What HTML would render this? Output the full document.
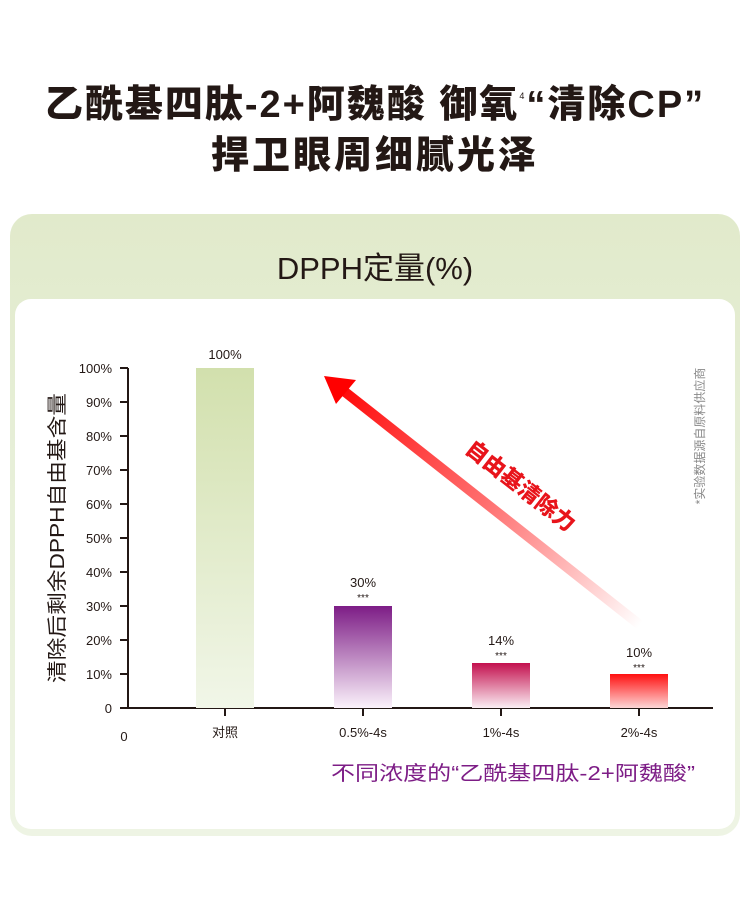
<!DOCTYPE html>
<html><head><meta charset="utf-8">
<style>
html,body{margin:0;padding:0;background:#fff;}
body{width:750px;height:904px;position:relative;overflow:hidden;font-family:"Liberation Sans","Noto Sans CJK SC",sans-serif;color:#231815;}
.t{position:absolute;left:0;width:750px;text-align:center;font-weight:900;font-size:38px;letter-spacing:2px;}
.outer{position:absolute;left:10px;top:214px;width:730px;height:622px;border-radius:22px;background:linear-gradient(#e1eacb,#e7efd8 40%,#eef4e4);}
.inner{position:absolute;left:15px;top:299px;width:720px;height:530px;border-radius:16px;background:#fff;}
.sub{position:absolute;left:0;top:243px;width:750px;text-align:center;font-size:31px;color:#231815;}
svg{position:absolute;left:0;top:0;}
</style></head><body>
<div class="t" style="top:73px">乙酰基四肽-2+阿魏酸 御氧<span style="font-size:9px;vertical-align:18px;font-weight:400">4</span>“清除CP”</div>
<div class="t" style="top:124px;letter-spacing:3px">捍卫眼周细腻光泽</div>
<div class="outer"></div>
<div class="inner"></div>
<div class="sub">DPPH定量(%)</div>
<svg width="750" height="904" viewBox="0 0 750 904">
<defs>
<linearGradient id="g0" x1="0" y1="0" x2="0" y2="1"><stop offset="0" stop-color="#d2e0ad"/><stop offset="1" stop-color="#f1f6e8"/></linearGradient>
<linearGradient id="g1" x1="0" y1="0" x2="0" y2="1"><stop offset="0" stop-color="#7d1d86"/><stop offset="1" stop-color="#fbf2fb"/></linearGradient>
<linearGradient id="g2" x1="0" y1="0" x2="0" y2="1"><stop offset="0" stop-color="#c3104e"/><stop offset="1" stop-color="#fbeef4"/></linearGradient>
<linearGradient id="g3" x1="0" y1="0" x2="0" y2="1"><stop offset="0" stop-color="#ff1010"/><stop offset="1" stop-color="#fdd6d6"/></linearGradient>
<linearGradient id="ga" x1="640" y1="625" x2="330" y2="380" gradientUnits="userSpaceOnUse"><stop offset="0" stop-color="#ff2020" stop-opacity="0"/><stop offset="0.5" stop-color="#ff3030" stop-opacity="0.7"/><stop offset="1" stop-color="#f00"/></linearGradient>
</defs>
<g font-family="Liberation Sans, Noto Sans CJK SC, sans-serif" font-size="13" fill="#231815">
<line x1="128" y1="368" x2="128" y2="709" stroke="#231815" stroke-width="2"/>
<line x1="120" y1="708" x2="713" y2="708" stroke="#231815" stroke-width="2"/>
<g stroke="#231815" stroke-width="2">
<line x1="120" y1="368" x2="128" y2="368"/><line x1="120" y1="402" x2="128" y2="402"/><line x1="120" y1="436" x2="128" y2="436"/><line x1="120" y1="470" x2="128" y2="470"/><line x1="120" y1="504" x2="128" y2="504"/><line x1="120" y1="538" x2="128" y2="538"/><line x1="120" y1="572" x2="128" y2="572"/><line x1="120" y1="606" x2="128" y2="606"/><line x1="120" y1="640" x2="128" y2="640"/><line x1="120" y1="674" x2="128" y2="674"/>
<line x1="225" y1="708" x2="225" y2="716"/><line x1="363" y1="708" x2="363" y2="716"/><line x1="501" y1="708" x2="501" y2="716"/><line x1="639" y1="708" x2="639" y2="716"/>
</g>
<g text-anchor="end">
<text x="112" y="373">100%</text><text x="112" y="407">90%</text><text x="112" y="441">80%</text><text x="112" y="475">70%</text><text x="112" y="509">60%</text><text x="112" y="543">50%</text><text x="112" y="577">40%</text><text x="112" y="611">30%</text><text x="112" y="645">20%</text><text x="112" y="679">10%</text><text x="112" y="713">0</text>
</g>
<text x="124" y="741" text-anchor="middle">0</text>
<rect x="196" y="368" width="58" height="340" fill="url(#g0)"/>
<rect x="334" y="606" width="58" height="102" fill="url(#g1)"/>
<rect x="472" y="663" width="58" height="45" fill="url(#g2)"/>
<rect x="610" y="674" width="58" height="34" fill="url(#g3)"/>
<g text-anchor="middle">
<text x="225" y="359">100%</text>
<text x="363" y="587">30%</text><text x="363" y="601" font-size="10">***</text>
<text x="501" y="645">14%</text><text x="501" y="659" font-size="10">***</text>
<text x="639" y="657">10%</text><text x="639" y="671" font-size="10">***</text>
<text x="225" y="737">对照</text><text x="363" y="737">0.5%-4s</text><text x="501" y="737">1%-4s</text><text x="639" y="737">2%-4s</text>
</g>
<text x="513" y="780" text-anchor="middle" font-size="20" fill="#7d1d86" textLength="364" lengthAdjust="spacingAndGlyphs">不同浓度的“乙酰基四肽-2+阿魏酸”</text>
<text transform="translate(64,538) rotate(-90)" text-anchor="middle" font-size="20" fill="#231815" textLength="290" lengthAdjust="spacingAndGlyphs">清除后剩余DPPH自由基含量</text>
<text transform="translate(704,436) rotate(-90)" text-anchor="middle" font-size="12" fill="#888">*实验数据源自原料供应商</text>
<line x1="640" y1="625" x2="340" y2="388" stroke="url(#ga)" stroke-width="10"/>
<polygon points="324,376 356,380 336,404" fill="#f00"/>
<text transform="translate(516,492) rotate(38)" text-anchor="middle" font-size="22" font-weight="900" fill="#e8141b">自由基清除力</text>
</g>
</svg>
</body></html>
